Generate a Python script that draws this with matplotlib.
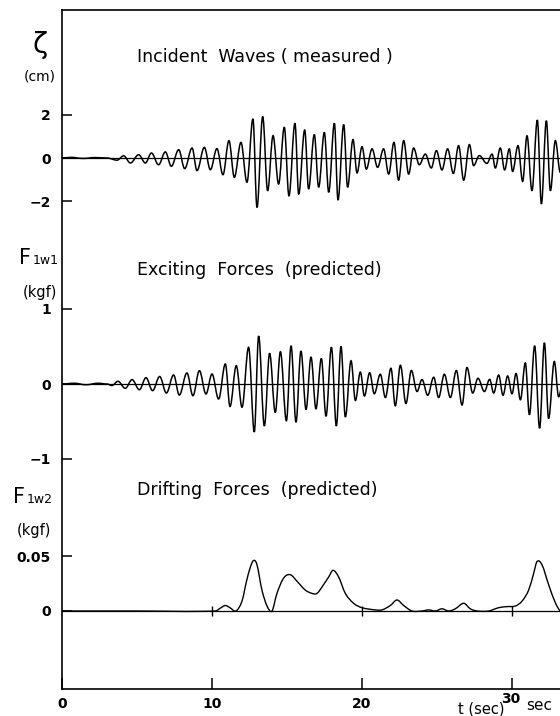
import matplotlib.pyplot as plt
from matplotlib.path import Path
from matplotlib.patches import PathPatch

# figure size in pixels, axes frame in pixel coordinates of the reference
W, H = 560, 716
X0, X1 = 62, 560
Y_TOP, Y_BOT = 10, 689

# incident waves (measured), extrema
t_wave = [0, 0.6, 1.4, 2.2, 3.0, 3.67, 4.11, 4.56, 5.11, 5.56, 5.96, 6.44, 6.89, 7.29,
          7.78, 8.18, 8.67, 9.0, 9.49, 9.89, 10.33, 10.73, 11.13, 11.49, 11.93, 12.33,
          12.73, 13.0, 13.38, 13.71, 14.07, 14.44, 14.82, 15.13, 15.53, 15.78, 16.18,
          16.44, 16.82, 17.11, 17.49, 17.78, 18.16, 18.4, 18.78, 19.04, 19.4, 19.67,
          20.0, 20.29, 20.67, 21.04, 21.44, 21.78, 22.13, 22.44, 22.78, 23.11, 23.44,
          23.82, 24.22, 24.62, 24.96, 25.33, 25.71, 26.09, 26.44, 26.78, 27.16, 27.44,
          27.82, 28.33, 28.67, 28.89, 29.22, 29.51, 29.82, 30.04, 30.4, 30.71, 31.0,
          31.33, 31.69, 31.96, 32.29, 32.56, 32.89, 33.22, 33.5]
zeta = [0, 0.03, -0.02, 0.02, 0.0, -0.1, 0.1, -0.23, 0.15, -0.23, 0.23, -0.31, 0.28,
        -0.38, 0.38, -0.49, 0.46, -0.58, 0.49, -0.54, 0.43, -0.77, 0.8, -0.89, 0.72,
        -1.12, 1.8, -2.28, 1.91, -1.51, 1.03, -1.2, 1.42, -1.74, 1.6, -1.66, 1.29,
        -1.43, 1.08, -1.35, 1.18, -1.58, 1.6, -1.94, 1.54, -1.35, 0.85, -0.69, 0.52,
        -0.51, 0.42, -0.43, 0.42, -0.74, 0.72, -1.02, 0.8, -0.74, 0.46, -0.31, 0.18,
        -0.46, 0.34, -0.55, 0.42, -0.71, 0.57, -1.02, 0.62, -0.35, 0.11, -0.25, 0.18,
        -0.46, 0.46, -0.55, 0.42, -0.62, 0.57, -1.08, 1.03, -1.51, 1.75, -2.12, 1.72,
        -1.51, 0.8, -0.66, 0.5]

# exciting forces (predicted), extrema
t_force = [0, 0.8, 1.6, 2.4, 3.0, 3.33, 3.73, 4.22, 4.67, 5.16, 5.6, 6.04, 6.51, 6.96,
           7.44, 7.82, 8.33, 8.73, 9.16, 9.6, 10.0, 10.44, 10.89, 11.2, 11.62, 12.0,
           12.44, 12.82, 13.11, 13.49, 13.84, 14.22, 14.56, 14.96, 15.27, 15.6, 15.93,
           16.27, 16.6, 16.93, 17.29, 17.6, 17.96, 18.29, 18.6, 18.89, 19.27, 19.56,
           19.89, 20.16, 20.51, 20.82, 21.22, 21.56, 21.93, 22.22, 22.56, 22.93, 23.29,
           23.67, 24.0, 24.38, 24.78, 25.11, 25.49, 25.89, 26.29, 26.67, 27.0, 27.38,
           27.73, 28.16, 28.51, 28.78, 29.11, 29.4, 29.71, 30.0, 30.27, 30.56, 30.89,
           31.16, 31.51, 31.84, 32.16, 32.44, 32.82, 33.11, 33.45]
f1w1 = [0, 0.01, -0.01, 0.01, 0, -0.02, 0.036, -0.058, 0.058, -0.076, 0.084, -0.089,
        0.1, -0.12, 0.12, -0.147, 0.147, -0.156, 0.178, -0.133, 0.133, -0.2, 0.267,
        -0.3, 0.244, -0.31, 0.49, -0.64, 0.64, -0.56, 0.41, -0.38, 0.43, -0.49, 0.51,
        -0.51, 0.44, -0.34, 0.36, -0.33, 0.34, -0.43, 0.49, -0.56, 0.5, -0.44, 0.31,
        -0.22, 0.16, -0.16, 0.15, -0.13, 0.13, -0.18, 0.21, -0.29, 0.25, -0.26, 0.18,
        -0.1, 0.06, -0.15, 0.09, -0.18, 0.13, -0.18, 0.18, -0.28, 0.22, -0.12, 0.076,
        -0.1, 0.062, -0.12, 0.12, -0.15, 0.107, -0.13, 0.14, -0.21, 0.28, -0.41, 0.51,
        -0.59, 0.55, -0.46, 0.3, -0.17, 0.1]

# drifting forces (predicted)
t_drift = [0, 5.0, 10.22, 10.6, 10.89, 11.2, 11.6, 12.0, 12.3, 12.56, 12.78, 13.0, 13.33,
           13.67, 14.0, 14.33, 14.78, 15.22, 15.67, 16.22, 16.67, 17.0, 17.44, 17.78,
           18.07, 18.44, 18.89, 19.44, 20.0, 20.89, 21.33, 21.89, 22.33, 22.78, 23.33,
           24.0, 24.44, 24.89, 25.33, 25.78, 26.22, 26.78, 27.22, 27.67, 28.44, 29.11,
           29.67, 30.22, 30.67, 31.11, 31.44, 31.67, 32.0, 32.44, 32.89, 33.22, 33.5]
f1w2 = [0, 0, 0, 0.003, 0.005, 0.003, 0, 0.009, 0.027, 0.04, 0.046, 0.042, 0.019,
        0.0045, 0, 0.016, 0.03, 0.033, 0.027, 0.019, 0.016, 0.016, 0.024, 0.031,
        0.037, 0.031, 0.016, 0.007, 0.003, 0.001, 0.001, 0.005, 0.01, 0.005, 0, 0,
        0.001, 0, 0.002, 0, 0.002, 0.007, 0.002, 0, 0, 0.003, 0.004, 0.0045, 0.009,
        0.019, 0.034, 0.045, 0.042, 0.024, 0.0075, 0, 0]

x_ticks = [0, 10, 20, 30]
x_tick_labels = ["0", "10", "20", ""]


def wave_path(t, y):
    # cubic Bezier segments with flat tangents at each extremum (sine-like swing)
    verts = [(t[0], y[0])]
    codes = [Path.MOVETO]
    for i in range(1, len(t)):
        d = t[i] - t[i - 1]
        verts += [(t[i - 1] + 0.364 * d, y[i - 1]), (t[i] - 0.364 * d, y[i]), (t[i], y[i])]
        codes += [Path.CURVE4] * 3
    return Path(verts, codes)


def smooth_path(t, y):
    # Catmull-Rom style Bezier segments through the read points
    n = len(t)
    verts = [(t[0], y[0])]
    codes = [Path.MOVETO]
    for i in range(1, n):
        a, b = max(i - 2, 0), min(i + 1, n - 1)
        d = t[i] - t[i - 1]
        s1 = (y[i] - y[a]) / (t[i] - t[a])
        s2 = (y[b] - y[i - 1]) / (t[b] - t[i - 1])
        verts += [(t[i - 1] + d / 3, y[i - 1] + s1 * d / 3),
                  (t[i] - d / 3, y[i] - s2 * d / 3), (t[i], y[i])]
        codes += [Path.CURVE4] * 3
    return Path(verts, codes)


fig = plt.figure(figsize=(W / 100, H / 100), dpi=100)

# outer frame
frame = fig.add_axes([X0 / W, 1 - Y_BOT / H, (X1 - X0) / W, (Y_BOT - Y_TOP) / H])
frame.set_xlim(0, (X1 - X0) / 15)
frame.spines['right'].set_visible(False)
for s in ['left', 'top', 'bottom']:
    frame.spines[s].set_linewidth(1.2)
frame.set_yticks([])
frame.set_xticks(x_ticks)
frame.set_xticklabels(x_tick_labels, fontsize=10, fontweight='bold')
frame.tick_params(axis='x', direction='in', length=8, width=1.1, pad=6)


def panel(top_px, bot_px, zero_px, px_per_unit):
    ax = fig.add_axes([X0 / W, 1 - bot_px / H, (X1 - X0) / W, (bot_px - top_px) / H],
                      sharex=frame)
    ax.set_ylim(-(bot_px - zero_px) / px_per_unit, (zero_px - top_px) / px_per_unit)
    ax.patch.set_visible(False)
    for s in ax.spines.values():
        s.set_visible(False)
    ax.tick_params(axis='x', which='both', bottom=False, labelbottom=False)
    ax.tick_params(axis='y', direction='in', length=7.5, width=1.1, pad=8,
                   labelsize=10)
    ax.axhline(0, color='black', lw=0.9)
    return ax


ax1 = panel(Y_TOP, 230, 158, 21.7)
ax1.add_patch(PathPatch(wave_path(t_wave, zeta), fill=False, ec='black', lw=1.1))
ax1.set_yticks([-2, 0, 2])
ax1.set_yticklabels(["−2", "0", "2"], fontweight='bold')

ax2 = panel(230, 470, 384, 75)
ax2.add_patch(PathPatch(wave_path(t_force, f1w1), fill=False, ec='black', lw=1.1))
ax2.set_yticks([-1, 0, 1])
ax2.set_yticklabels(["−1", "0", "1"], fontweight='bold')

ax3 = panel(470, Y_BOT, 611, 1100)
ax3.add_patch(PathPatch(smooth_path(t_drift, f1w2), fill=False, ec='black', lw=1.0))
ax3.plot(x_ticks[1:], [0] * 3, ls='none', marker='|', ms=7, mew=1, color='black')
ax3.set_yticks([0, 0.05])
ax3.set_yticklabels(["0", "0.05"], fontweight='bold')


def ftext(x, y, s, **kw):
    fig.text(x / W, 1 - y / H, s, **kw)


# panel titles
ftext(137, 57, "Incident  Waves ( measured )", fontsize=12.5, va='center')
ftext(137, 270, "Exciting  Forces  (predicted)", fontsize=12.5, va='center')
ftext(137, 490, "Drifting  Forces  (predicted)", fontsize=12.5, va='center')

# y-axis quantity labels
ftext(40, 45, "ζ", fontsize=20, ha='center', va='center')
ftext(40, 77, "(cm)", fontsize=10, ha='center', va='center')
ftext(19, 264, "F", fontsize=15, va='baseline')
ftext(33, 264, "1w1", fontsize=9, va='baseline')
ftext(40, 292, "(kgf)", fontsize=10.5, ha='center', va='center')
ftext(13, 503, "F", fontsize=15, va='baseline')
ftext(27, 503, "1w2", fontsize=9, va='baseline')
ftext(34, 530, "(kgf)", fontsize=10.5, ha='center', va='center')

# time axis label
ftext(458, 709, "t (sec)", fontsize=10.5, va='center')
ftext(511, 699, "30", fontsize=10, fontweight='bold', ha='center', va='center')
ftext(526, 706, "sec", fontsize=11, va='center')

fig.savefig("out.png", dpi=100)
